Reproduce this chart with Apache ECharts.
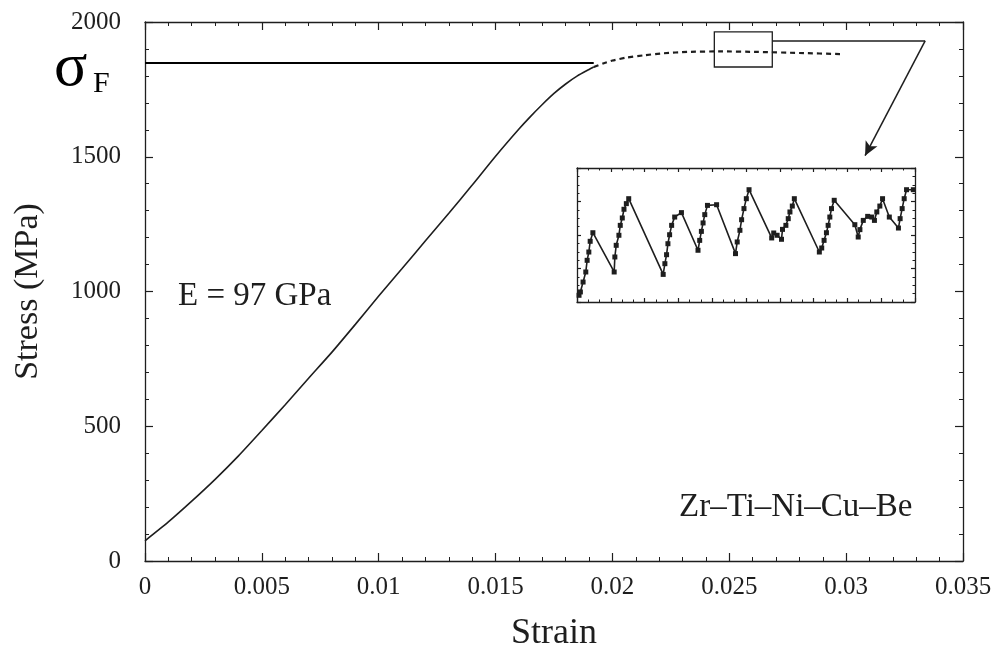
<!DOCTYPE html>
<html>
<head>
<meta charset="utf-8">
<script src="https://cdn.jsdelivr.net/npm/echarts@6/dist/echarts.min.js"></script>
<style>
  html, body { margin: 0; padding: 0; background: #fff; }
  #chart { width: 998px; height: 657px; }
</style>
</head>
<body>
<div id="chart"></div>
<script>
// main stress-strain curve, solid part (elastic region)
var strainSolid = [0, 0.001, 0.002, 0.003, 0.004, 0.005, 0.006, 0.007, 0.008, 0.009, 0.010, 0.011, 0.012, 0.013, 0.014, 0.015, 0.016, 0.0165, 0.017, 0.0175, 0.018, 0.0185, 0.019, 0.0192];
var stressSolid = [75, 145, 222, 303, 390, 484, 580, 678, 775, 878, 983, 1085, 1188, 1290, 1395, 1502, 1603, 1650, 1694, 1735, 1770, 1800, 1824, 1833];
// plateau, drawn dashed
var strainDash = [0.0192, 0.0196, 0.0200, 0.0206, 0.0214, 0.0222, 0.0232, 0.0246, 0.0262, 0.0280, 0.0298];
var stressDash = [1833, 1846, 1857, 1868, 1877, 1884, 1889, 1891, 1889, 1885, 1881];
// serrations shown in the inset (relative units 0-100)
var insetX = [0.6, 1.0, 1.8, 2.6, 3.0, 3.5, 3.9, 4.7, 11.0, 11.2, 11.6, 12.4, 12.8, 13.4, 13.9, 14.6, 15.3,
  25.5, 26.0, 26.5, 26.9, 27.4, 28.0, 28.9, 30.9, 35.8, 36.3, 36.8, 37.3, 37.8, 38.6, 41.3,
  46.9, 47.4, 48.2, 48.7, 49.4, 50.1, 50.9, 57.6, 58.2, 59.2, 60.5, 60.8, 61.8, 62.5, 63.0, 63.7, 64.3,
  71.7, 72.4, 73.1, 73.8, 74.3, 74.8, 75.3, 76.1, 82.2, 83.2, 83.7, 84.7, 86.0, 87.2, 88.0, 88.7, 89.6, 90.4,
  92.4, 95.1, 95.6, 96.2, 96.8, 97.5, 99.5];
var insetY = [5.0, 7.5, 14.9, 22.4, 31.1, 37.3, 45.3, 51.7, 22.4, 33.6, 42.3, 49.8, 57.2, 62.7, 69.2, 73.4, 77.1,
  20.6, 28.6, 35.3, 43.5, 50.2, 57.2, 63.4, 66.7, 38.6, 46.0, 52.7, 59.0, 65.2, 72.1, 72.6,
  36.1, 44.8, 53.5, 61.4, 69.7, 77.1, 83.8, 47.8, 51.5, 49.8, 46.8, 54.2, 57.2, 62.2, 67.2, 71.6, 77.1,
  37.3, 40.3, 46.0, 51.7, 57.2, 63.4, 69.7, 75.9, 57.7, 48.5, 54.0, 60.9, 63.9, 63.4, 60.9, 67.2, 71.6, 77.1,
  63.4, 55.2, 62.2, 69.7, 77.1, 83.8, 83.8];
var xTicks = [0, 0.005, 0.01, 0.015, 0.02, 0.025, 0.03, 0.035];
var yTicks = [0, 500, 1000, 1500, 2000];
var sigmaF = 1848;
var zoomBox = [[0.02436, 1833], [0.02684, 1963]];
var arrowPath = [[0.02684, 1930], [0.03338, 1930], [0.03081, 1504]];

function zip(a, b) {
  var out = [];
  for (var i = 0; i < a.length; i++) out.push([a[i], b[i]]);
  return out;
}

var ink = '#1e1e1e';
var serif = '"Liberation Serif", "DejaVu Serif", serif';
var chart = echarts.init(document.getElementById('chart'));

function frameAxis(pos, idx, gridIdx, min, max, interval, minor, labels) {
  return {
    type: 'value', position: pos, gridIndex: gridIdx, min: min, max: max, interval: interval,
    axisLine: { show: true, onZero: false, lineStyle: { color: ink, width: 1.3 } },
    axisTick: { show: true, inside: true, length: gridIdx ? 4 : 8, lineStyle: { color: ink, width: 1.2 } },
    minorTick: { show: true, splitNumber: minor, length: gridIdx ? 2.5 : 4, lineStyle: { color: ink, width: 1 } },
    splitLine: { show: false },
    axisLabel: labels ? labels : { show: false }
  };
}

var xLabel = {
  show: true, fontFamily: serif, fontSize: 25, color: ink, margin: 14,
  formatter: function (v) {
    for (var i = 0; i < xTicks.length; i++) if (Math.abs(v - xTicks[i]) < 1e-9) return String(xTicks[i]);
    return '';
  }
};
var yLabel = {
  show: true, fontFamily: serif, fontSize: 25, color: ink, margin: 24,
  formatter: function (v) { return yTicks.indexOf(Math.round(v)) >= 0 ? String(Math.round(v)) : ''; }
};

var xMain = frameAxis('bottom', 0, 0, 0, 0.035, 0.005, 5, xLabel);
xMain.name = 'Strain';
xMain.nameLocation = 'middle';
xMain.nameGap = 55;
xMain.nameTextStyle = { fontFamily: serif, fontSize: 36, color: ink };
var yMain = frameAxis('left', 0, 0, 0, 2000, 500, 5, yLabel);
yMain.name = 'Stress (MPa)';
yMain.nameLocation = 'middle';
yMain.nameGap = 100;
yMain.nameTextStyle = { fontFamily: serif, fontSize: 34, color: ink };

var option = {
  animation: false,
  backgroundColor: '#fff',
  grid: [
    { left: 145, top: 22, right: 35, bottom: 94 },
    { left: 577, top: 168, width: 338, height: 134 }
  ],
  xAxis: [
    xMain,
    frameAxis('top', 1, 0, 0, 0.035, 0.005, 5),
    frameAxis('bottom', 2, 1, 0, 100, 10, 3),
    frameAxis('top', 3, 1, 0, 100, 10, 3)
  ],
  yAxis: [
    yMain,
    frameAxis('right', 1, 0, 0, 2000, 500, 5),
    frameAxis('left', 2, 1, 0, 100, 25, 4),
    frameAxis('right', 3, 1, 0, 100, 25, 4)
  ],
  series: [
    {
      name: 'elastic', type: 'line', xAxisIndex: 0, yAxisIndex: 0,
      data: zip(strainSolid, stressSolid), smooth: 0.2, showSymbol: false,
      lineStyle: { color: ink, width: 1.6 },
      markLine: {
        silent: true, symbol: 'none', label: { show: false },
        lineStyle: { color: '#000', width: 2, type: 'solid' },
        data: [[{ coord: [0, sigmaF] }, { coord: [strainSolid[strainSolid.length - 1], sigmaF] }]]
      }
    },
    {
      name: 'plastic', type: 'line', xAxisIndex: 0, yAxisIndex: 0,
      data: zip(strainDash, stressDash), smooth: 0.2, showSymbol: false,
      lineStyle: { color: ink, width: 2.2, type: [5, 4] },
      markArea: {
        silent: true,
        itemStyle: { color: 'rgba(0,0,0,0)', borderColor: ink, borderWidth: 1.3 },
        data: [[{ coord: zoomBox[0] }, { coord: zoomBox[1] }]]
      },
      markLine: {
        silent: true, label: { show: false },
        lineStyle: { color: ink, width: 1.5, type: 'solid' },
        data: [
          [{ coord: arrowPath[0], symbol: 'none' }, { coord: arrowPath[1], symbol: 'none' }],
          [{ coord: arrowPath[1], symbol: 'none' }, { coord: arrowPath[2], symbol: 'arrow', symbolSize: [10, 14] }]
        ]
      }
    },
    {
      name: 'serrations', type: 'line', xAxisIndex: 2, yAxisIndex: 2,
      data: zip(insetX, insetY), showSymbol: true, symbol: 'rect', symbolSize: 5,
      itemStyle: { color: ink },
      lineStyle: { color: ink, width: 1.6 }
    }
  ],
  graphic: [
    { type: 'text', left: 178, top: 280, style: { text: 'E = 97 GPa', font: '33px ' + serif, fill: ink } },
    { type: 'text', left: 679, top: 491, style: { text: 'Zr\u2013Ti\u2013Ni\u2013Cu\u2013Be', font: '33px ' + serif, fill: ink } },
    { type: 'text', left: 54, top: 38, style: { text: '\u03C3', font: '62px ' + serif, fill: '#000' } },
    { type: 'text', left: 93, top: 69, style: { text: 'F', font: '30px ' + serif, fill: '#000' } }
  ]
};
chart.setOption(option);
</script>
</body>
</html>
